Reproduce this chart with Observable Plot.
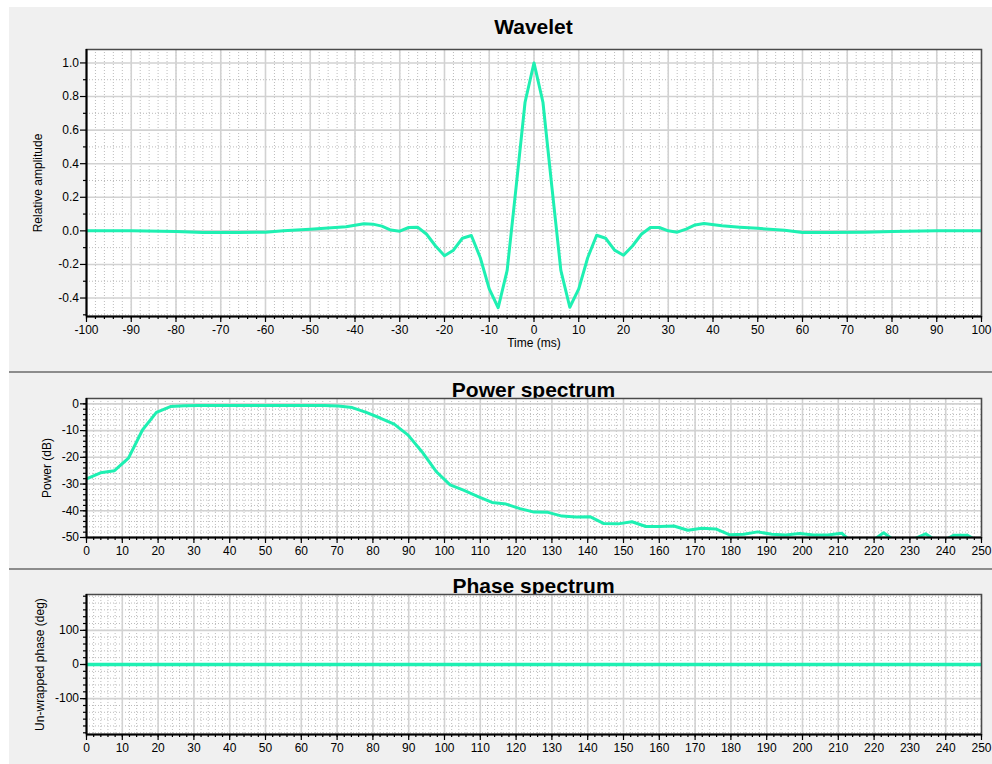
<!DOCTYPE html>
<html><head><meta charset="utf-8">
<script src="https://cdn.jsdelivr.net/npm/d3@7"></script>
<script src="https://cdn.jsdelivr.net/npm/@observablehq/plot@0.6"></script>
<style>
body{margin:0;background:#fff;}
#page{position:relative;width:992px;height:764px;overflow:hidden;background:#fff;font-family:"Liberation Sans",Arial,sans-serif;}
.panel{position:absolute;left:9px;right:0;background:#f0f0f0;}
.sep{position:absolute;left:9px;right:0;height:2px;background:#8c8c8c;}
.title{position:absolute;left:86px;width:895px;text-align:center;font-weight:bold;font-size:21px;line-height:24px;color:#000;}
.chart{position:absolute;left:0;}
</style>
</head><body>
<div id="page">
  <div class="panel" style="top:7px;height:364px"></div>
  <div class="panel" style="top:373px;height:195px"></div>
  <div class="panel" style="top:570px;height:194px"></div>
  <div class="sep" style="top:371px"></div>
  <div class="sep" style="top:568px"></div>
  <div class="title" style="top:15px">Wavelet</div>
  <div class="title" style="top:378px">Power spectrum</div>
  <div class="title" style="top:574px">Phase spectrum</div>
  <div class="chart" id="c1" style="top:7px"></div>
  <div class="chart" id="c2" style="top:372px"></div>
  <div class="chart" id="c3" style="top:569px"></div>
</div>
<script>
// ---- Data ----
const waveTime = [-100,-90,-80,-74,-66,-60,-56,-50,-46,-42,-38,-36,-34,-32,-30,-28,-26,-24,-22,-20,-18,-16,-14,-12,-10,-8,-6,-4,-2,0,2,4,6,8,10,12,14,16,18,20,22,24,26,28,30,32,34,36,38,42,46,50,56,60,66,74,80,90,100];
const waveAmp = [0.0,0.0,-0.004,-0.01,-0.01,-0.008,0.0,0.01,0.017,0.025,0.042,0.04,0.028,0.005,-0.002,0.02,0.022,-0.02,-0.09,-0.148,-0.115,-0.044,-0.028,-0.16,-0.346,-0.458,-0.235,0.26,0.766,1.0,0.766,0.26,-0.235,-0.455,-0.346,-0.16,-0.026,-0.044,-0.115,-0.145,-0.09,-0.02,0.02,0.02,0.0,-0.008,0.01,0.035,0.044,0.03,0.022,0.015,0.003,-0.01,-0.01,-0.008,-0.004,0.0,0.0];

const powerFreq = [0,3.91,7.81,11.72,15.63,19.53,23.44,27.34,31.25,35.16,39.06,42.97,46.88,50.78,54.69,58.59,62.5,66.41,70.31,74.22,78.13,82.03,85.94,89.84,93.75,97.66,101.56,105.47,109.38,113.28,117.19,121.09,125,128.91,132.81,136.72,140.63,144.53,148.44,152.34,156.25,160.16,164.06,167.97,171.88,175.78,179.69,183.59,187.5,191.41,195.31,199.22,203.13,207.03,210.94,214.84,218.75,222.66,226.56,230.47,234.38,238.28,242.19,246.09,250];
const powerDb = [-28.1,-25.8,-25.0,-20.3,-9.8,-3.2,-1.0,-0.7,-0.6,-0.6,-0.6,-0.6,-0.6,-0.6,-0.6,-0.6,-0.6,-0.6,-0.8,-1.4,-3.2,-5.3,-7.6,-11.7,-18.0,-25.3,-30.3,-32.4,-34.7,-36.9,-37.5,-39.2,-40.5,-40.6,-42.0,-42.3,-42.2,-44.8,-44.9,-44.1,-45.9,-45.9,-45.7,-47.3,-46.5,-46.8,-49.0,-48.8,-47.9,-48.8,-49.1,-48.5,-49.1,-49.1,-48.4,-53,-52,-48.2,-52,-51,-48.6,-52,-49.2,-49.2,-52];

const phaseFreq = [0, 250];
const phaseDeg = [0, 0];

// ---- Tick labels ----
const waveXTicks = [-100,-90,-80,-70,-60,-50,-40,-30,-20,-10,0,10,20,30,40,50,60,70,80,90,100];
const waveYTicks = [-0.4,-0.2,0.0,0.2,0.4,0.6,0.8,1.0];
const freqTicks = [0,10,20,30,40,50,60,70,80,90,100,110,120,130,140,150,160,170,180,190,200,210,220,230,240,250];
const powerYTicks = [-50,-40,-30,-20,-10,0];
const phaseYTicks = [-100,0,100];

// minor tick positions
const waveXMinor = d3.range(-100, 100.1, 2);
const waveYMinor = d3.range(-0.5, 1.0, 0.2);
const freqMinor = d3.range(0, 250.1, 2);
const powerYMinor = d3.range(-50, 0.1, 2);
const phaseYMinor = d3.range(-200, 200.1, 20);

const LINE = "#1ef0b2";
const FONT = "'Liberation Sans', Arial, sans-serif";
const minorGrid = {stroke: "#bcbcbc", strokeOpacity: 1, strokeWidth: 1, strokeDasharray: "1,2"};
const majorGrid = {stroke: "#d2d2d2", strokeOpacity: 1, strokeWidth: 1.6};
const style = {background: "transparent", fontFamily: FONT, fontSize: "12px", color: "#000", overflow: "visible"};

function chrome(xMinor, xMajor, yMinor, yMajor, xDom, yDom, yFmt, xLabel, yLabel, yLabelDx) {
  const marks = [
    Plot.frame({fill: "white", stroke: null}),
    Plot.gridX(xMinor, minorGrid),
    Plot.gridY(yMinor, minorGrid),
    Plot.gridX(xMajor, majorGrid),
    Plot.gridY(yMajor, majorGrid)
  ];
  const overlay = [
    Plot.frame({stroke: "#4a4a4a", strokeWidth: 1.5}),
    Plot.axisX(xMinor, {tickSize: 3, tickFormat: () => "", label: null, strokeWidth: 1.2}),
    Plot.axisX(xMajor, {tickSize: 6, tickPadding: 3, tickFormat: d => String(d), label: null, strokeWidth: 1.2, fontSize: 12}),
    Plot.axisY(yMinor, {tickSize: 3, tickFormat: () => "", label: null, strokeWidth: 1.2}),
    Plot.axisY(yMajor, {tickSize: 6, tickPadding: 1.5, tickFormat: yFmt, label: null, strokeWidth: 1.2, fontSize: 12}),
    Plot.ruleX([xDom[0]], {stroke: "#000", strokeWidth: 2}),
    Plot.ruleY([yDom[0]], {stroke: "#000", strokeWidth: 2}),
    Plot.text([yLabel], {text: d => d, frameAnchor: "left", textAnchor: "middle", dx: yLabelDx, rotate: -90, fontSize: 12})
  ];
  if (xLabel) overlay.push(Plot.text([xLabel], {text: d => d, frameAnchor: "bottom", dy: 30, fontSize: 12}));
  return [marks, overlay];
}

// Wavelet
{
  const xDom = [-100, 100], yDom = [-0.51, 1.08];
  const [under, over] = chrome(waveXMinor, waveXTicks, waveYMinor, waveYTicks, xDom, yDom, d => d.toFixed(1), "Time (ms)", "Relative amplitude", -48);
  const data = waveTime.map((t, i) => ({t, a: waveAmp[i]}));
  document.getElementById("c1").append(Plot.plot({
    width: 992, height: 363,
    marginLeft: 86, marginRight: 11, marginTop: 42, marginBottom: 54,
    style,
    x: {domain: xDom}, y: {domain: yDom},
    marks: [...under, Plot.line(data, {x: "t", y: "a", stroke: LINE, strokeWidth: 3, clip: true}), ...over]
  }));
}
// Power spectrum
{
  const xDom = [0, 250], yDom = [-50, 2];
  const [under, over] = chrome(freqMinor, freqTicks, powerYMinor, powerYTicks, xDom, yDom, d => String(d), null, "Power (dB)", -39);
  const data = powerFreq.map((f, i) => ({f, p: powerDb[i]}));
  document.getElementById("c2").append(Plot.plot({
    width: 992, height: 195,
    marginLeft: 86, marginRight: 11, marginTop: 26, marginBottom: 30,
    style,
    x: {domain: xDom}, y: {domain: yDom},
    marks: [...under, Plot.line(data, {x: "f", y: "p", stroke: LINE, strokeWidth: 3, clip: true}), ...over]
  }));
}
// Phase spectrum
{
  const xDom = [0, 250], yDom = [-205, 205];
  const [under, over] = chrome(freqMinor, freqTicks, phaseYMinor, phaseYTicks, xDom, yDom, d => String(d), null, "Un-wrapped phase (deg)", -46);
  const data = phaseFreq.map((f, i) => ({f, d: phaseDeg[i]}));
  document.getElementById("c3").append(Plot.plot({
    width: 992, height: 195,
    marginLeft: 86, marginRight: 11, marginTop: 25, marginBottom: 30,
    style,
    x: {domain: xDom}, y: {domain: yDom},
    marks: [...under, Plot.line(data, {x: "f", y: "d", stroke: LINE, strokeWidth: 3.5, clip: true}), ...over]
  }));
}
</script>
</body></html>
